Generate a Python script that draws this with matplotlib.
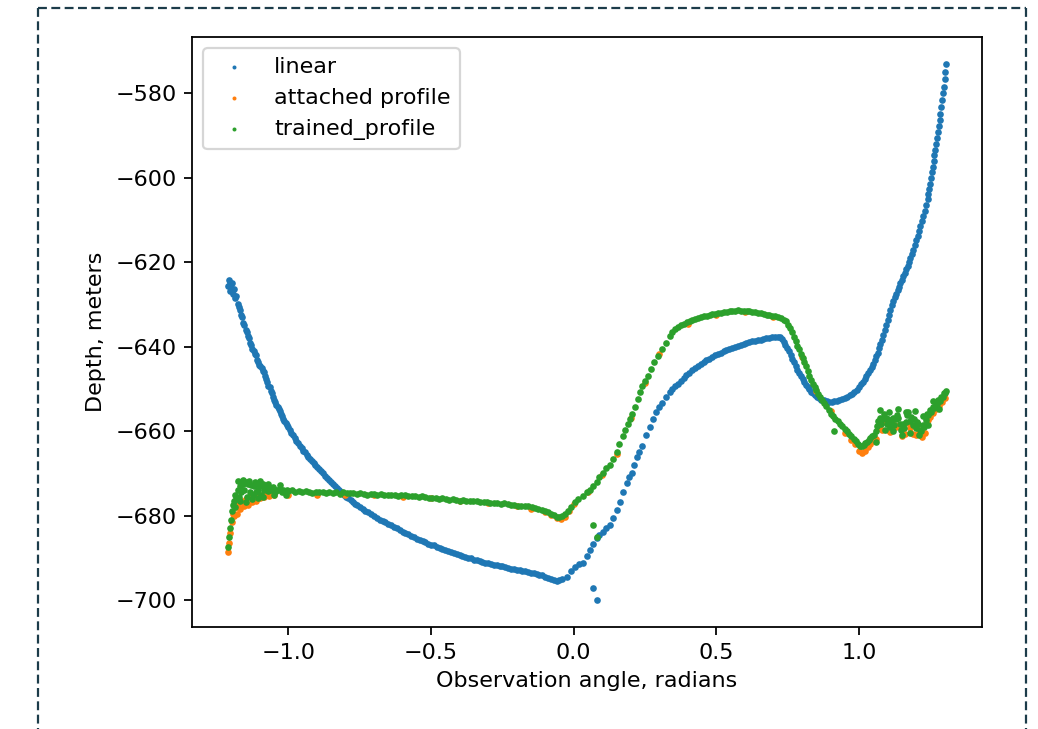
import matplotlib
matplotlib.use("Agg")
import matplotlib.pyplot as plt
from matplotlib.lines import Line2D

# ---------------- data ----------------
linear_x = [
    -1.212, -1.209, -1.206, -1.203, -1.200, -1.197, -1.194, -1.190, -1.186, -1.182,
    -1.178, -1.174, -1.170, -1.166, -1.162, -1.158, -1.154, -1.150, -1.146, -1.142,
    -1.138, -1.134, -1.130, -1.126, -1.122, -1.118, -1.114, -1.110, -1.106, -1.102,
    -1.098, -1.094, -1.090, -1.086, -1.082, -1.078, -1.074, -1.070, -1.066, -1.062,
    -1.058, -1.054, -1.050, -1.046, -1.042, -1.038, -1.034, -1.030, -1.026, -1.022,
    -1.018, -1.014, -1.010, -1.006, -1.002, -0.996, -0.990, -0.984, -0.978, -0.972,
    -0.966, -0.960, -0.954, -0.948, -0.942, -0.936, -0.930, -0.924, -0.918, -0.912,
    -0.906, -0.900, -0.893, -0.886, -0.879, -0.872, -0.865, -0.858, -0.851, -0.844,
    -0.837, -0.830, -0.822, -0.814, -0.806, -0.798, -0.790, -0.782, -0.774, -0.766,
    -0.758, -0.750, -0.740, -0.730, -0.720, -0.710, -0.700, -0.690, -0.680, -0.670,
    -0.660, -0.650, -0.640, -0.630, -0.620, -0.610, -0.600, -0.590, -0.580, -0.570,
    -0.560, -0.550, -0.540, -0.530, -0.520, -0.510, -0.500, -0.490, -0.480, -0.470,
    -0.460, -0.450, -0.440, -0.430, -0.420, -0.410, -0.400, -0.390, -0.380, -0.370,
    -0.360, -0.350, -0.340, -0.330, -0.320, -0.310, -0.300, -0.290, -0.280, -0.270,
    -0.260, -0.250, -0.240, -0.230, -0.220, -0.210, -0.200, -0.190, -0.180, -0.170,
    -0.160, -0.150, -0.140, -0.130, -0.120, -0.110, -0.100, -0.090, -0.080, -0.070,
    -0.060, -0.050, -0.040, -0.025, -0.010, 0.003, 0.018, 0.033, 0.045, 0.056,
    0.066, 0.080, 0.068, 0.080, 0.090, 0.101, 0.113, 0.126, 0.138, 0.150,
    0.161, 0.173, 0.185, 0.195, 0.203, 0.212, 0.220, 0.230, 0.238, 0.252,
    0.266, 0.278, 0.290, 0.300, 0.311, 0.323, 0.336, 0.345, 0.355, 0.365,
    0.375, 0.385, 0.395, 0.405, 0.415, 0.425, 0.435, 0.445, 0.455, 0.465,
    0.475, 0.485, 0.495, 0.505, 0.515, 0.525, 0.535, 0.545, 0.555, 0.565,
    0.575, 0.585, 0.595, 0.605, 0.615, 0.625, 0.635, 0.645, 0.655, 0.665,
    0.675, 0.685, 0.695, 0.705, 0.715, 0.722, 0.730, 0.736, 0.742, 0.748,
    0.754, 0.760, 0.766, 0.772, 0.778, 0.784, 0.790, 0.796, 0.802, 0.808,
    0.814, 0.820, 0.826, 0.832, 0.838, 0.845, 0.852, 0.860, 0.868, 0.877,
    0.886, 0.895, 0.904, 0.913, 0.922, 0.931, 0.940, 0.949, 0.958, 0.967,
    0.976, 0.984, 0.992, 1.000, 1.007, 1.014, 1.020, 1.026, 1.032, 1.038,
    1.044, 1.050, 1.055, 1.060, 1.065, 1.070, 1.075, 1.080, 1.085, 1.090,
    1.095, 1.100, 1.105, 1.110, 1.115, 1.120, 1.125, 1.130, 1.135, 1.140,
    1.145, 1.150, 1.155, 1.160, 1.165, 1.170, 1.175, 1.180, 1.185, 1.190,
    1.195, 1.200, 1.205, 1.210, 1.215, 1.220, 1.225, 1.230, 1.235, 1.240,
    1.243, 1.246, 1.249, 1.252, 1.255, 1.258, 1.261, 1.264, 1.267, 1.270,
    1.273, 1.276, 1.279, 1.282, 1.285, 1.288, 1.291, 1.294, 1.297, 1.300,
    1.302, 1.304,
]
linear_y = [
    -625.5, -624.2, -626.8, -624.8, -626.0, -625.0, -627.5, -626.3, -628.5, -628.0,
    -629.8, -630.5, -631.2, -632.5, -633.0, -634.3, -634.8, -636.0, -636.5, -637.5,
    -638.0, -639.2, -639.5, -640.5, -641.0, -641.8, -642.0, -643.2, -643.5, -644.2,
    -644.5, -645.0, -645.8, -646.0, -647.0, -647.6, -648.3, -649.2, -649.6, -650.5,
    -651.0, -651.8, -652.5, -653.0, -653.8, -654.2, -654.8, -655.3, -656.0, -656.4,
    -657.0, -657.5, -658.0, -658.5, -659.0, -659.6, -660.3, -661.0, -661.6, -662.2,
    -662.8, -663.4, -664.0, -664.6, -665.0, -665.6, -666.0, -666.6, -667.0, -667.4,
    -667.9, -668.4, -668.9, -669.5, -670.0, -670.5, -671.0, -671.5, -672.0, -672.6,
    -673.0, -673.5, -674.0, -674.5, -675.0, -675.5, -675.9, -676.3, -676.8, -677.2,
    -677.5, -677.9, -678.3, -678.8, -679.2, -679.6, -680.0, -680.5, -680.9, -681.3,
    -681.6, -682.0, -682.3, -682.7, -683.0, -683.4, -683.8, -684.1, -684.4, -684.8,
    -685.1, -685.4, -685.8, -686.1, -686.3, -686.6, -686.9, -687.0, -687.4, -687.6,
    -687.8, -688.1, -688.3, -688.6, -688.8, -689.0, -689.3, -689.5, -689.7, -690.0,
    -690.1, -690.4, -690.6, -690.8, -690.9, -691.1, -691.3, -691.4, -691.6, -691.7,
    -691.9, -692.0, -692.2, -692.3, -692.5, -692.6, -692.8, -692.9, -693.0, -693.2,
    -693.3, -693.5, -693.6, -693.8, -694.0, -694.1, -694.4, -694.7, -695.0, -695.2,
    -695.4, -695.3, -695.0, -694.4, -693.2, -692.1, -691.5, -691.2, -689.6, -688.1,
    -697.1, -700.0, -686.6, -685.2, -684.5, -683.8, -683.0, -682.1, -680.5, -678.6,
    -676.7, -674.5, -672.2, -670.8, -669.8, -668.0, -666.0, -664.8, -663.6, -661.0,
    -658.9, -657.0, -655.5, -654.3, -653.2, -652.0, -650.8, -650.1, -649.4, -648.7,
    -648.0, -647.3, -646.7, -646.1, -645.5, -645.0, -644.5, -644.0, -643.6, -643.2,
    -642.8, -642.4, -642.0, -641.7, -641.4, -641.1, -640.8, -640.5, -640.2, -640.0,
    -639.8, -639.5, -639.3, -639.1, -638.9, -638.7, -638.6, -638.4, -638.3, -638.1,
    -638.0, -637.9, -637.8, -637.7, -637.6, -637.8, -638.2, -638.8, -639.5, -640.2,
    -641.0, -641.9, -642.8, -643.7, -644.6, -645.4, -646.2, -647.0, -647.7, -648.4,
    -649.0, -649.6, -650.1, -650.6, -651.0, -651.5, -651.9, -652.2, -652.5, -652.7,
    -652.9, -653.0, -653.0, -652.9, -652.8, -652.6, -652.4, -652.2, -651.9, -651.5,
    -651.1, -650.7, -650.2, -649.6, -648.9, -648.3, -647.7, -647.0, -646.3, -645.6,
    -644.9, -644.0, -643.2, -642.3, -641.4, -640.4, -639.4, -638.3, -637.2, -636.0,
    -634.8, -633.6, -632.4, -631.3, -630.2, -629.2, -628.3, -627.4, -626.6, -625.8,
    -625.0, -624.2, -623.3, -622.5, -621.6, -620.8, -619.9, -619.0, -618.0, -617.0,
    -615.9, -614.8, -613.7, -612.6, -611.5, -610.3, -609.1, -607.8, -606.5, -605.0,
    -603.9, -602.7, -601.4, -600.1, -598.7, -597.4, -596.0, -594.7, -593.3, -591.9,
    -590.5, -589.1, -587.7, -586.3, -584.8, -583.2, -581.6, -580.0, -578.4, -576.6,
    -575.0, -573.0,
]

attached_x = [
    -1.210, -1.207, -1.203, -1.199, -1.195, -1.190, -1.185, -1.180, -1.175, -1.170,
    -1.163, -1.156, -1.149, -1.142, -1.135, -1.128, -1.121, -1.114, -1.107, -1.100,
    -1.092, -1.084, -1.076, -1.068, -1.060, -1.050, -1.000, -0.900, -0.800, -0.700,
    -0.600, -0.500, -0.400, -0.300, -0.200, -0.150, -0.100, -0.080, -0.060, -0.045,
    -0.030, -0.015, 0.000, 0.050, 0.100, 0.150, 0.200, 0.250, 0.300, 0.400,
    0.500, 0.600, 0.700, 0.800, 0.850, 0.900, 0.950, 0.970, 0.985, 1.000,
    1.010, 1.020, 1.030, 1.040, 1.050, 1.060, 1.070, 1.080, 1.090, 1.100,
    1.110, 1.120, 1.130, 1.140, 1.150, 1.160, 1.170, 1.180, 1.190, 1.200,
    1.210, 1.220, 1.230, 1.240, 1.250, 1.260, 1.270, 1.280, 1.290, 1.300,
]
attached_y = [
    -688.5, -686.5, -684.0, -681.5, -679.5, -680.0, -678.0, -679.5, -677.5, -678.5,
    -676.5, -677.8, -676.0, -677.5, -675.5, -676.8, -675.5, -676.5, -675.0, -675.8,
    -675.0, -675.6, -674.8, -675.3, -674.8, -675.0, -675.0, -675.0, -675.0, -675.2,
    -675.5, -675.8, -676.4, -677.0, -677.8, -678.3, -679.2, -679.9, -680.6, -680.8,
    -680.3, -679.0, -677.2, -674.3, -670.3, -665.3, -656.8, -648.5, -641.8, -634.5,
    -632.4, -631.8, -633.0, -642.5, -650.5, -655.3, -660.4, -662.0, -663.0, -664.6,
    -665.2, -664.6, -663.8, -663.0, -662.3, -661.8, -659.2, -659.6, -657.8, -659.8,
    -660.2, -658.4, -659.0, -658.6, -661.2, -660.6, -658.0, -659.2, -660.6, -660.8,
    -659.8, -661.4, -660.4, -657.4, -656.6, -655.6, -654.8, -654.0, -653.0, -652.2,
]

trained_x = [
    -1.210, -1.207, -1.204, -1.200, -1.197, -1.194, -1.190, -1.186, -1.182, -1.178,
    -1.174, -1.170, -1.165, -1.160, -1.155, -1.150, -1.145, -1.140, -1.135, -1.130,
    -1.125, -1.120, -1.115, -1.110, -1.105, -1.100, -1.095, -1.090, -1.084, -1.078,
    -1.072, -1.066, -1.060, -1.054, -1.048, -1.042, -1.036, -1.030, -1.024, -1.018,
    -1.012, -1.006, -1.000, -0.988, -0.976, -0.964, -0.952, -0.940, -0.928, -0.916,
    -0.904, -0.892, -0.880, -0.868, -0.856, -0.844, -0.832, -0.820, -0.808, -0.796,
    -0.784, -0.772, -0.760, -0.748, -0.736, -0.724, -0.712, -0.700, -0.688, -0.676,
    -0.664, -0.652, -0.640, -0.628, -0.616, -0.604, -0.592, -0.580, -0.568, -0.556,
    -0.544, -0.532, -0.520, -0.508, -0.496, -0.484, -0.472, -0.460, -0.448, -0.436,
    -0.424, -0.412, -0.400, -0.388, -0.376, -0.364, -0.352, -0.340, -0.328, -0.316,
    -0.304, -0.292, -0.280, -0.268, -0.256, -0.244, -0.232, -0.220, -0.208, -0.196,
    -0.184, -0.172, -0.160, -0.148, -0.136, -0.124, -0.112, -0.100, -0.090, -0.080,
    -0.070, -0.060, -0.050, -0.040, -0.030, -0.020, -0.010, 0.003, 0.015, 0.031,
    0.045, 0.056, 0.066, 0.080, 0.068, 0.080, 0.090, 0.101, 0.113, 0.126,
    0.138, 0.150, 0.160, 0.171, 0.180, 0.189, 0.196, 0.203, 0.213, 0.224,
    0.232, 0.241, 0.250, 0.259, 0.271, 0.283, 0.295, 0.308, 0.322, 0.336,
    0.346, 0.356, 0.366, 0.376, 0.386, 0.396, 0.406, 0.416, 0.426, 0.436,
    0.446, 0.456, 0.466, 0.476, 0.486, 0.496, 0.506, 0.516, 0.526, 0.536,
    0.546, 0.556, 0.566, 0.576, 0.586, 0.596, 0.606, 0.616, 0.626, 0.636,
    0.646, 0.656, 0.666, 0.676, 0.686, 0.696, 0.706, 0.716, 0.726, 0.736,
    0.745, 0.752, 0.759, 0.766, 0.772, 0.778, 0.784, 0.790, 0.796, 0.802,
    0.808, 0.814, 0.820, 0.826, 0.832, 0.838, 0.844, 0.850, 0.857, 0.864,
    0.871, 0.878, 0.885, 0.893, 0.901, 0.909, 0.913, 0.917, 0.925, 0.933,
    0.941, 0.949, 0.957, 0.965, 0.973, 0.981, 0.989, 0.996, 1.003, 1.010,
    1.016, 1.022, 1.028, 1.034, 1.040, 1.046, 1.052, 1.058, 1.063, 1.068,
    1.073, 1.078, 1.083, 1.088, 1.093, 1.098, 1.103, 1.108, 1.113, 1.118,
    1.123, 1.128, 1.133, 1.138, 1.143, 1.148, 1.153, 1.158, 1.163, 1.168,
    1.173, 1.178, 1.183, 1.188, 1.193, 1.198, 1.203, 1.208, 1.213, 1.218,
    1.223, 1.228, 1.233, 1.238, 1.243, 1.248, 1.253, 1.258, 1.263, 1.268,
    1.273, 1.278, 1.283, 1.288, 1.293, 1.298, 1.302, 1.305,
    # noisy edges of the band
    -1.188, -1.176, -1.168, -1.158, -1.148, -1.138, -1.128, -1.118, -1.108, -1.098,
    -1.088, -1.070, -1.050, -1.030, -1.010,
    1.060, 1.075, 1.090, 1.105, 1.120, 1.135, 1.150, 1.165, 1.180, 1.195,
    1.210, 1.225, 1.240, 1.260, 1.280,
]
trained_y = [
    -687.5, -685.0, -683.0, -681.0, -679.0, -677.5, -676.5, -675.0, -676.0, -674.0,
    -675.5, -673.0, -674.5, -672.5, -674.0, -672.0, -675.5, -672.5, -674.5, -672.8,
    -675.0, -673.0, -674.5, -672.5, -674.0, -673.0, -675.0, -672.5, -673.8, -673.2,
    -674.2, -673.5, -674.0, -673.3, -674.3, -673.8, -674.0, -673.6, -674.3, -673.9,
    -674.4, -674.0, -674.2, -674.0, -674.4, -674.1, -674.5, -674.2, -674.3, -674.6,
    -674.3, -674.5, -674.4, -674.7, -674.4, -674.6, -674.5, -674.8, -674.5, -674.6,
    -674.7, -674.6, -674.9, -674.7, -674.8, -675.0, -674.8, -674.9, -675.1, -674.9,
    -675.0, -675.2, -675.0, -675.1, -675.3, -675.1, -675.2, -675.4, -675.3, -675.4,
    -675.6, -675.4, -675.6, -675.8, -675.7, -675.8, -676.0, -675.9, -676.0, -676.2,
    -676.1, -676.2, -676.4, -676.3, -676.4, -676.6, -676.5, -676.6, -676.8, -676.7,
    -676.8, -677.0, -676.9, -677.0, -677.2, -677.1, -677.3, -677.4, -677.4, -677.6,
    -677.6, -677.8, -677.8, -678.0, -678.1, -678.3, -678.6, -678.8, -679.2, -679.5,
    -679.8, -680.2, -680.3, -680.1, -679.7, -679.0, -678.0, -676.7, -676.0, -675.4,
    -674.5, -673.8, -682.1, -685.0, -673.0, -671.9, -670.8, -669.8, -668.8, -667.9,
    -666.5, -664.8, -663.0, -661.2, -659.8, -658.4, -657.2, -656.0, -654.2, -652.4,
    -650.8, -649.4, -648.2, -647.0, -645.3, -643.7, -642.2, -640.6, -639.0, -637.5,
    -636.6, -635.9, -635.3, -634.9, -634.5, -634.2, -633.9, -633.7, -633.5, -633.2,
    -633.0, -632.8, -632.7, -632.5, -632.3, -632.2, -632.0, -631.9, -631.8, -631.7,
    -631.6, -631.5, -631.5, -631.4, -631.5, -631.5, -631.6, -631.6, -631.7, -631.8,
    -631.9, -632.1, -632.2, -632.4, -632.5, -632.7, -632.8, -633.0, -633.2, -633.6,
    -634.0, -634.8, -635.6, -636.5, -637.6, -638.7, -639.7, -640.6, -641.6, -642.6,
    -643.6, -644.6, -645.8, -646.8, -647.8, -648.7, -649.5, -650.3, -651.1, -651.9,
    -652.6, -653.4, -654.1, -655.0, -655.8, -656.5, -660.0, -657.0, -657.6, -658.2,
    -658.8, -659.4, -660.0, -660.6, -661.2, -661.8, -662.2, -663.0, -663.5, -663.6,
    -663.2, -662.8, -662.5, -662.0, -661.6, -661.2, -660.8, -660.0, -658.8, -657.6,
    -656.8, -658.4, -657.2, -655.8, -656.8, -658.2, -657.2, -659.0, -657.8, -656.8,
    -658.6, -657.2, -656.2, -656.8, -658.2, -659.6, -658.2, -659.2, -657.8, -656.2,
    -655.4, -657.6, -656.6, -658.6, -657.2, -659.2, -657.8, -658.4, -659.6, -660.0,
    -658.6, -659.0, -657.4, -656.0, -656.2, -655.0, -655.4, -654.2, -654.4, -653.4,
    -653.6, -652.6, -652.8, -651.8, -651.9, -651.0, -651.0, -650.4,
    # noisy edges of the band
    -678.0, -671.8, -676.5, -671.5, -676.8, -671.8, -676.0, -672.0, -675.8, -671.8,
    -675.5, -672.5, -675.0, -672.8, -675.0,
    -662.5, -655.0, -659.8, -655.5, -660.0, -654.8, -661.0, -655.5, -660.5, -655.2,
    -661.0, -656.5, -658.5, -652.8, -654.8,
]

series_labels = ["linear", "attached profile", "trained_profile"]
x_label = "Observation angle, radians"
y_label = "Depth, meters"

# ---------------- figure ----------------
W, H, DPI = 1038, 729, 160
fig = plt.figure(figsize=(W / DPI, H / DPI), dpi=DPI)
ax = fig.add_axes([192 / W, 1 - 627 / H, 790 / W, 590 / H])

mk = 9
ax.scatter(linear_x, linear_y, s=mk, color="#1f77b4", linewidths=0, label=series_labels[0])
ax.scatter(attached_x, attached_y, s=mk, color="#ff7f0e", linewidths=0, label=series_labels[1])
ax.scatter(trained_x, trained_y, s=mk, color="#2ca02c", linewidths=0, label=series_labels[2])

ax.set_xlabel(x_label)
ax.set_ylabel(y_label)
ax.legend(loc="upper left", markerscale=0.6)

# dashed frame around the figure (notebook cell outline)
frame_kw = dict(color="#1c3c4a", linewidth=1.0, linestyle=(0, (4, 2)))
x0, x1, yt = 38 / W, 1026 / W, 1 - 8 / H
fig.add_artist(Line2D([x0, x1], [yt, yt], transform=fig.transFigure, **frame_kw))
fig.add_artist(Line2D([x0, x0], [yt, 0], transform=fig.transFigure, **frame_kw))
fig.add_artist(Line2D([x1, x1], [yt, 0], transform=fig.transFigure, **frame_kw))

fig.savefig("out.png", dpi=DPI)
